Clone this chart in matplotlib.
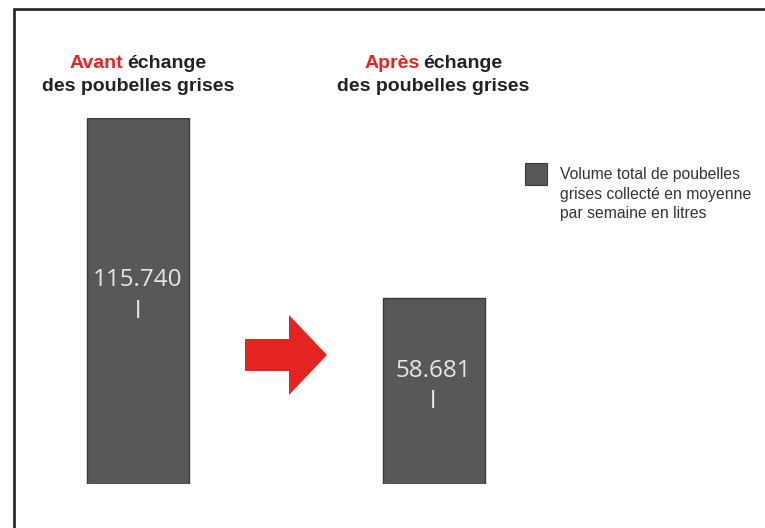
import matplotlib.pyplot as plt
from matplotlib.offsetbox import TextArea, HPacker, VPacker, AnnotationBbox
from matplotlib.patches import Polygon, Rectangle

# données
categories = ['Avant', 'Après']
volumes = [115740, 58681]
value_labels = ['115.740\nl', '58.681\nl']
title_rest = 'échange'
title_line2 = 'des poubelles grises'
legend_label = 'Volume total de poubelles\ngrises collecté en moyenne\npar semaine en litres'

W, H = 765, 528
bar_color = '#58585a'
red = '#e42421'
dark = '#222222'

plt.rcParams['font.family'] = ['Liberation Sans', 'DejaVu Sans']

fig = plt.figure(figsize=(W / 100, H / 100), dpi=100)

# fond : cadre, flèche, légende
ov = fig.add_axes([0, 0, 1, 1])
ov.set_xlim(0, W)
ov.set_ylim(H, 0)
ov.axis('off')
ov.plot([14, 14, W], [H, 8.5, 8.5], color=dark, lw=1.9, solid_joinstyle='miter')
arrow = Polygon([(245, 339), (289, 339), (289, 315), (327, 355), (289, 395),
                 (289, 371), (245, 371)], closed=True, color=red, lw=0)
ov.add_patch(arrow)

ov.add_patch(Rectangle((525, 163), 22, 22, facecolor=bar_color,
                       edgecolor='#3a3a3a', lw=0.8))
ov.text(560, 167, legend_label, va='top', ha='left', fontsize=11.3,
        color='#333333', linespacing=1.38)

# barres
ax = fig.add_axes([0, 44 / H, 1, 366 / H])
unit = 295.5
left = -138 / unit
ax.set_xlim(left, left + W / unit)
ax.set_ylim(0, max(volumes))
ax.axis('off')
x = list(range(len(categories)))
bars = ax.bar(x, volumes, width=102 / unit, color=bar_color,
              edgecolor='#3a3a3a', linewidth=1.0, label=legend_label)

for b, lab in zip(bars, value_labels):
    ax.annotate(lab, (b.get_x() + b.get_width() / 2, b.get_height() / 2),
                xytext=(0, 5), textcoords='offset pixels', ha='center', va='center',
                color='#e6e6e6', fontsize=17.5, family='Open Sans', linespacing=1.4)

# titres au-dessus des barres
for i, cat in enumerate(categories):
    tp = dict(fontsize=14, fontweight='bold')
    l1 = HPacker(children=[TextArea(cat, textprops=dict(color=red, **tp)),
                           TextArea(title_rest, textprops=dict(color=dark, **tp))],
                 align='baseline', pad=0, sep=3)
    l2 = TextArea(title_line2, textprops=dict(color=dark, **tp))
    box = VPacker(children=[l1, l2], align='center', pad=0, sep=5)
    ab = AnnotationBbox(box, (i, max(volumes)), xybox=(0, 43), xycoords='data',
                        boxcoords='offset pixels', box_alignment=(0.5, 0.5),
                        frameon=False, annotation_clip=False)
    ax.add_artist(ab)

fig.savefig('out.png', dpi=100)
